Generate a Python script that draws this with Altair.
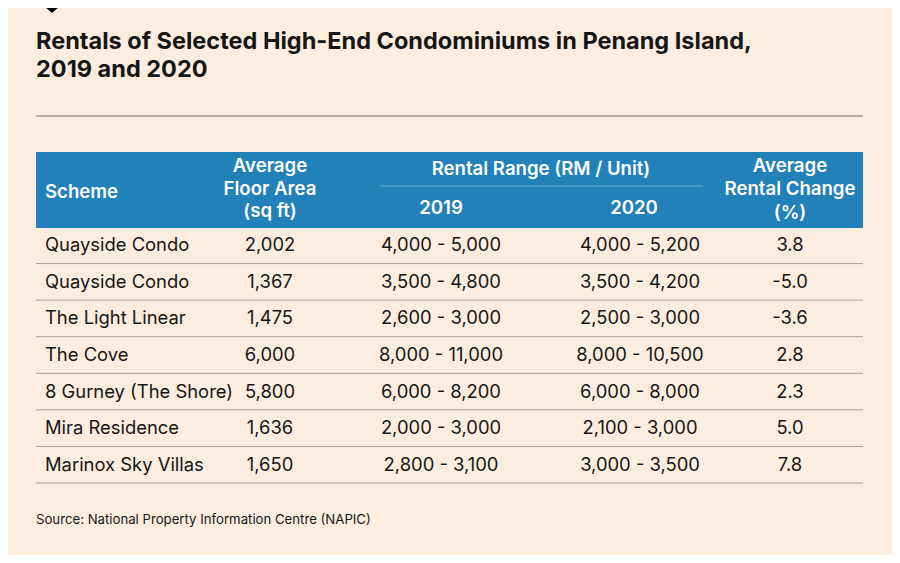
import altair as alt
import pandas as pd

# ---- data ----
schemes = ["Quayside Condo", "Quayside Condo", "The Light Linear", "The Cove",
           "8 Gurney (The Shore)", "Mira Residence", "Marinox Sky Villas"]
floor_area = ["2,002", "1,367", "1,475", "6,000", "5,800", "1,636", "1,650"]
range_2019 = ["4,000 - 5,000", "3,500 - 4,800", "2,600 - 3,000", "8,000 - 11,000",
              "6,000 - 8,200", "2,000 - 3,000", "2,800 - 3,100"]
range_2020 = ["4,000 - 5,200", "3,500 - 4,200", "2,500 - 3,000", "8,000 - 10,500",
              "6,000 - 8,000", "2,100 - 3,000", "3,000 - 3,500"]
avg_change = ["3.8", "-5.0", "-3.6", "2.8", "2.3", "5.0", "7.8"]

title_lines = ["Rentals of Selected High-End Condominiums in Penang Island,", "2019 and 2020"]
source_text = "Source: National Property Information Centre (NAPIC)"

BG = "#fdeddf"
BLUE = "#2381b9"
LINE = "#a39d97"
TXT = "#161616"
FONT = "Inter"

df = pd.DataFrame({
    "idx": list(range(len(schemes))),
    "scheme": schemes,
    "area": floor_area,
    "r2019": range_2019,
    "r2020": range_2020,
    "chg": avg_change,
})

yscale = alt.Scale(domain=[-0.5, len(schemes) - 0.5], range=[219, 475])
one = pd.DataFrame({"k": [0]})

base = alt.Chart(df)

# header box
header = alt.Chart(one).mark_rect(color=BLUE).encode(
    x=alt.value(28), x2=alt.value(855), y=alt.value(144), y2=alt.value(220))

header_sub = alt.Chart(one).mark_rule(color="#6eaad3", strokeWidth=1).encode(
    x=alt.value(372), x2=alt.value(695), y=alt.value(178))

top_rule = alt.Chart(one).mark_rule(color="#77716c", strokeWidth=1).encode(
    x=alt.value(28), x2=alt.value(855), y=alt.value(108))

seps = base.transform_calculate(sep="datum.idx + 0.5").mark_rule(
    color=LINE, strokeWidth=1).encode(
    y=alt.Y("sep:Q", scale=yscale, axis=None),
    x=alt.value(28), x2=alt.value(855))

def col(field, xpos, align):
    return base.mark_text(align=align, baseline="middle", font=FONT, fontSize=18.4,
                          color=TXT).encode(
        y=alt.Y("idx:Q", scale=yscale, axis=None),
        x=alt.value(xpos), text=f"{field}:N")

cols = [col("scheme", 37, "left"), col("area", 262, "center"),
        col("r2019", 433, "center"), col("r2020", 632, "center"),
        col("chg", 782, "center")]

# header texts
hdr = pd.DataFrame({
    "t": ["Scheme", "Average", "Floor Area", "(sq ft)", "Rental Range (RM / Unit)",
          "2019", "2020", "Average", "Rental Change", "(%)"],
    "x": [37, 262, 262, 262, 533, 433, 626, 782, 782, 782],
    "y": [184, 158, 181, 203, 161, 200, 200, 158, 181, 205],
    "a": ["left", "center", "center", "center", "center", "center", "center",
          "center", "center", "center"],
})
hdr_layers = []
for _, r in hdr.iterrows():
    hdr_layers.append(alt.Chart(pd.DataFrame({"t": [r.t]})).mark_text(
        align=r.a, baseline="middle", font=FONT, fontSize=18.6, fontWeight=600,
        color="white").encode(x=alt.value(int(r.x)), y=alt.value(int(r.y)), text="t:N"))

title_layers = []
for i, line in enumerate(title_lines):
    title_layers.append(alt.Chart(pd.DataFrame({"t": [line]})).mark_text(
        align="left", baseline="middle", font=FONT, fontSize=23.5, fontWeight=700,
        color=TXT).encode(x=alt.value(28), y=alt.value(34 + 28 * i), text="t:N"))

source = alt.Chart(pd.DataFrame({"t": [source_text]})).mark_text(
    align="left", baseline="middle", font=FONT, fontSize=13.2, color=TXT).encode(
    x=alt.value(28), y=alt.value(512), text="t:N")

tri = alt.Chart(one).mark_point(shape="M -1.15 -1 L 1.15 -1 L 0 0 Z", filled=True,
                                color="black", size=676, opacity=1,
                                strokeWidth=0).encode(
    x=alt.value(44), y=alt.value(5))

chart = alt.layer(header, header_sub, top_rule, seps, *cols, *hdr_layers,
                  *title_layers, source, tri).properties(
    width=884, height=547, background=BG, padding=0,
    autosize=alt.AutoSizeParams(type="none")
).configure_view(stroke=None)

chart.save("out.html", embed_options={"renderer": "svg", "actions": False})
